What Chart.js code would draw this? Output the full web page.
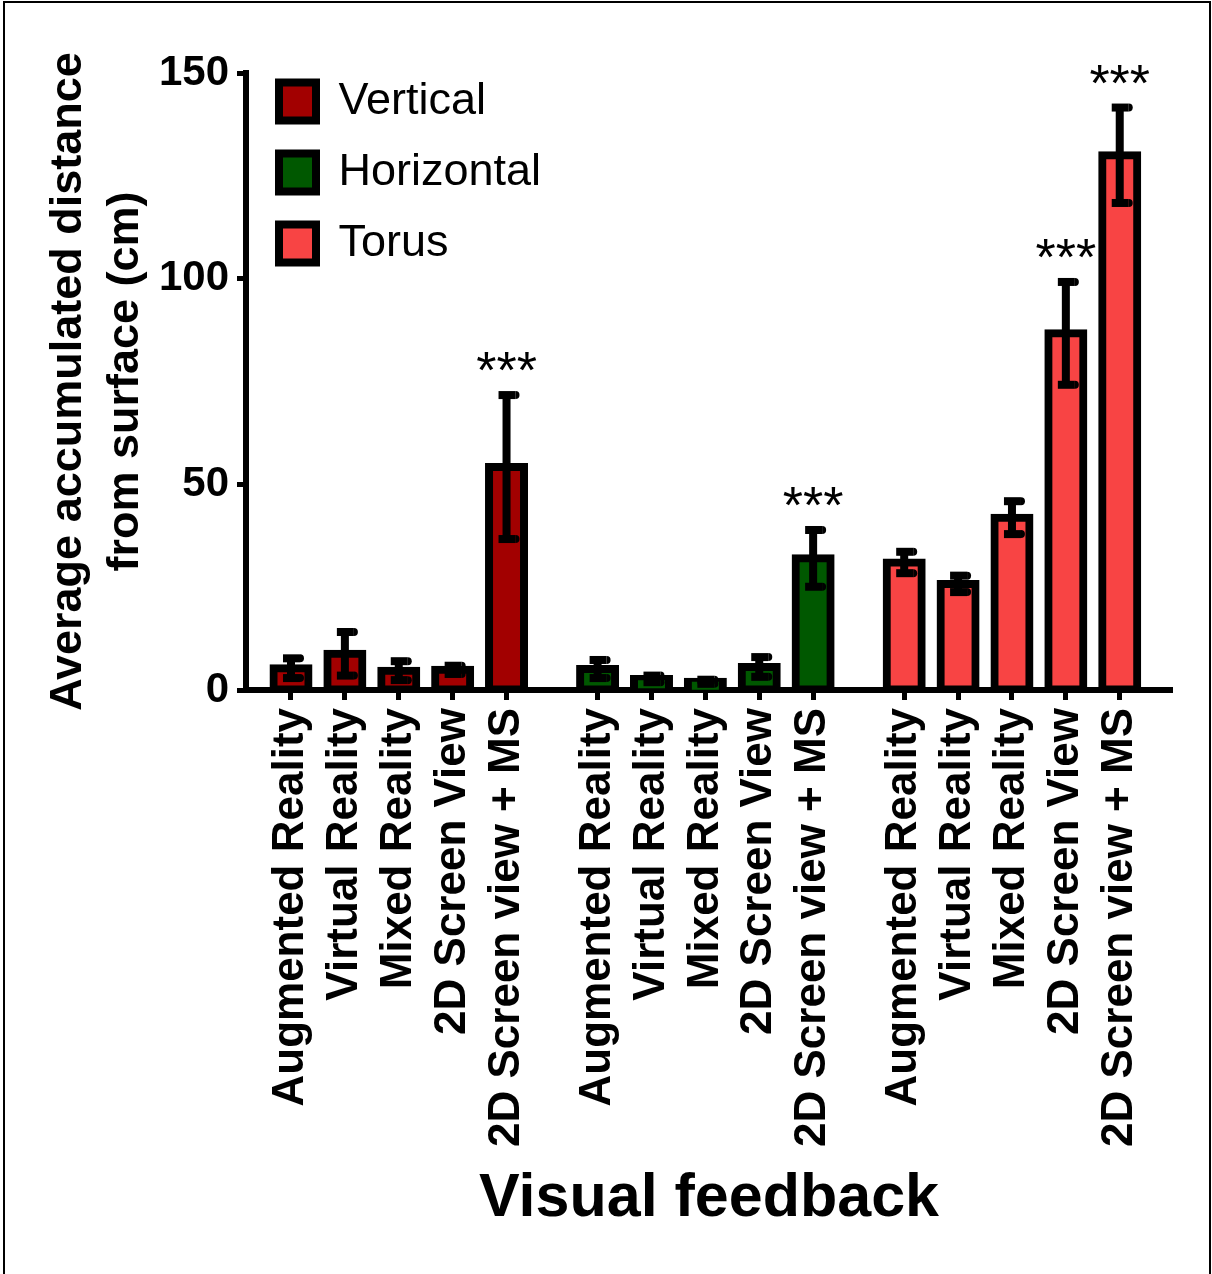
<!DOCTYPE html>
<html>
<head>
<meta charset="utf-8">
<script src="https://cdn.jsdelivr.net/npm/chart.js@4.4.1/dist/chart.umd.min.js"></script>
<style>
  html, body { margin: 0; padding: 0; background: #fff; overflow: hidden; }
  #frame { position: absolute; left: 3px; top: 1px; width: 1204px; height: 1271px; border: 2px solid #000; border-bottom: none; }
  #wrap { position: absolute; left: 0; top: 0; width: 1212px; height: 1274px; }
</style>
</head>
<body>
<div id="frame"></div>
<div id="wrap"><canvas id="chart"></canvas></div>
<script>
// categories and groups
const CATEGORIES = ["Augmented Reality", "Virtual Reality", "Mixed Reality", "2D Screen View", "2D Screen view + MS"];
const GROUPS = ["Vertical", "Horizontal", "Torus"];

// means and error bars (cm)
const VERTICAL = [5.3, 8.8, 4.7, 4.9, 54.2];
const VERTICAL_ERR = [2.4, 5.3, 2.3, 1.0, 17.5];
const HORIZONTAL = [5.1, 2.7, 2.0, 5.6, 32.0];
const HORIZONTAL_ERR = [2.2, 0.8, 0.5, 2.4, 6.9];
const TORUS = [31.0, 25.8, 41.9, 86.7, 130.0];
const TORUS_ERR = [2.6, 2.0, 4.0, 12.5, 11.6];

// significance marks
const VERTICAL_SIG = ["", "", "", "", "***"];
const HORIZONTAL_SIG = ["", "", "", "", "***"];
const TORUS_SIG = ["", "", "", "***", "***"];

const Y_TICKS = [0, 50, 100, 150];

const COLORS = ["#a20000", "#005800", "#f84444"];
const FONT = "'Liberation Sans', Arial, sans-serif";

const VALUES = [VERTICAL, HORIZONTAL, TORUS];
const ERRORS = [VERTICAL_ERR, HORIZONTAL_ERR, TORUS_ERR];
const SIGNIF = [VERTICAL_SIG, HORIZONTAL_SIG, TORUS_SIG];

// bars sit on a linear x axis; groups separated by an extra gap
const GROUP_STEP = CATEGORIES.length + 0.69;
const slot = (g, j) => g * GROUP_STEP + j;

const tickPos = [];
const tickLabels = [];
GROUPS.forEach((_, g) => CATEGORIES.forEach((c, j) => {
  tickPos.push(slot(g, j));
  tickLabels.push(c);
}));

Chart.defaults.font.family = FONT;
Chart.defaults.color = "#000";

const errorBars = {
  id: "errorBars",
  afterDatasetsDraw(chart) {
    const ctx = chart.ctx;
    const y = chart.scales.y;
    ctx.save();
    ctx.fillStyle = "#000";
    chart.data.datasets.forEach((ds, d) => {
      const meta = chart.getDatasetMeta(d);
      meta.data.forEach((bar, i) => {
        const v = VALUES[d][i], e = ERRORS[d][i];
        const cx = bar.x;
        const yTop = y.getPixelForValue(v + e);
        const yBot = y.getPixelForValue(v - e);
        ctx.fillRect(cx - 4, yTop, 8, yBot - yTop);
        [yTop, yBot].forEach((py) => {
          ctx.fillRect(cx - 8, py - 4, 17, 8);
          ctx.beginPath();
          ctx.arc(cx + 9, py, 4, -Math.PI / 2, Math.PI / 2);
          ctx.fill();
        });
        const s = SIGNIF[d][i];
        if (s) {
          ctx.font = "52px " + FONT;
          ctx.textAlign = "center";
          ctx.textBaseline = "alphabetic";
          ctx.fillText(s, cx, yTop - 7);
        }
      });
    });
    ctx.restore();
  }
};

// put the legend in the upper left of the plot
const legendPlace = {
  id: "legendPlace",
  afterLayout(chart) {
    const l = chart.legend, a = chart.chartArea;
    l.left = a.left + 7;
    l.right = l.left + l.width;
    l.top = a.top - 20;
    l.bottom = l.top + l.height;
  }
};

new Chart(document.getElementById("chart"), {
  type: "bar",
  data: {
    datasets: GROUPS.map((name, g) => ({
      label: name,
      data: VALUES[g].map((v, j) => ({ x: slot(g, j), y: v })),
      backgroundColor: COLORS[g],
      borderColor: "#000",
      borderWidth: 8,
      borderSkipped: false,
      inflateAmount: 4,
      barThickness: 35,
      grouped: false
    }))
  },
  options: {
    responsive: true,
    maintainAspectRatio: false,
    animation: false,
    layout: { padding: { left: 0, top: 73, right: 40, bottom: 0 } },
    plugins: {
      tooltip: { enabled: false },
      legend: {
        position: "chartArea",
        align: "start",
        labels: {
          boxWidth: 37,
          boxHeight: 38,
          padding: 26,
          color: "#000",
          font: { size: 45 }
        }
      }
    },
    scales: {
      x: {
        type: "linear",
        offset: false,
        min: -0.835,
        max: 16.35,
        afterBuildTicks: (axis) => { axis.ticks = tickPos.map((v) => ({ value: v })); },
        afterFit: (s) => { s.height = 584; },
        ticks: {
          autoSkip: false,
          maxRotation: 90,
          minRotation: 90,
          padding: 8,
          color: "#000",
          font: { size: 44, weight: "bold" },
          callback: (v, i) => tickLabels[i]
        },
        grid: { drawOnChartArea: false, offset: false, tickLength: 10, tickWidth: 5, tickColor: "#000" },
        border: { width: 6, color: "#000" },
        title: {
          display: true,
          text: "Visual feedback",
          color: "#000",
          font: { size: 61, weight: "bold" },
          padding: { top: 0, bottom: 38 }
        }
      },
      y: {
        min: 0,
        max: 150,
        afterBuildTicks: (axis) => { axis.ticks = Y_TICKS.map((v) => ({ value: v })); },
        afterFit: (s) => { s.width = 246; },
        ticks: { padding: 8, color: "#000", font: { size: 42, weight: "bold" } },
        grid: { drawOnChartArea: false, tickLength: 9, tickWidth: 5, tickColor: "#000" },
        border: { width: 6, color: "#000" },
        title: {
          display: true,
          text: ["Average accumulated distance", "from surface (cm)"],
          color: "#000",
          font: { size: 45, weight: "bold", lineHeight: 1.27 },
          padding: { top: 40, bottom: 0 }
        }
      }
    }
  },
  plugins: [errorBars, legendPlace]
});
</script>
</body>
</html>
